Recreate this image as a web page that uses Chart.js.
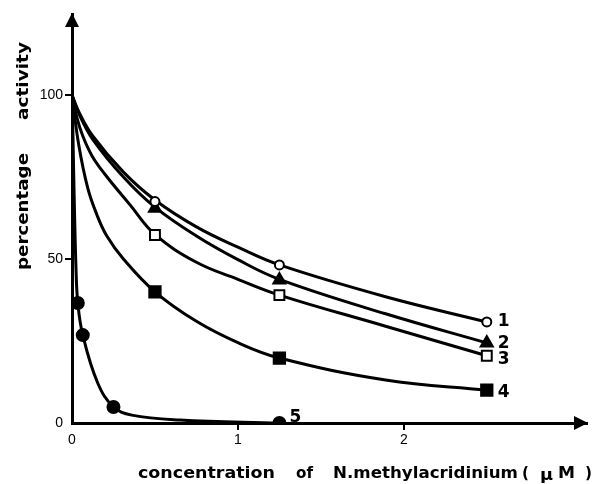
<!DOCTYPE html>
<html lang="en">
<head>
    <meta charset="UTF-8">
    <title>Percentage activity vs N-methylacridinium</title>
    <script src="https://cdn.jsdelivr.net/npm/chart.js"></script>
    <style>
        html, body {
            margin: 0;
            padding: 0;
            background: white;
        }
        .wrap {
            width: 597px;
            height: 484px;
            position: relative;
        }
    </style>
</head>
<body>
    <div class="wrap"><canvas id="chart"></canvas></div>
    <script>
        // tick labels
        const xTicks = [0, 1, 2];
        const yTicks = [0, 50, 100];
        const seriesNames = ["1", "2", "3", "4", "5"];

        // measured points (curves 1-4 share the same concentrations)
        const markerX = [0.5, 1.25, 2.5];
        const marker1 = [67.5, 48.2, 30.8];
        const marker2 = [65.5, 43.6, 24.4];
        const marker3 = [57.3, 39, 20.5];
        const marker4 = [40, 19.8, 10];
        const marker5X = [0.035, 0.065, 0.25, 1.25];
        const marker5 = [36.6, 26.8, 4.9, 0];

        // fitted curves
        const curve12X = [0, 0.04, 0.125, 0.31, 0.5, 0.75, 1.0, 1.25, 1.89, 2.5];
        const curve1 = [100, 95, 87.5, 76.5, 68, 59.8, 53.6, 48.2, 38.5, 30.8];
        const curve2 = [100, 94.5, 86.5, 75, 65.8, 57, 49.8, 43.8, 33.3, 24.4];
        const curve3X = [0, 0.03, 0.065, 0.12, 0.196, 0.35, 0.5, 0.75, 1.0, 1.25, 1.89, 2.5];
        const curve3 = [100, 93, 87.5, 81.5, 76, 66.5, 57.5, 49, 43.8, 39, 29.5, 20.5];
        const curve4X = [0, 0.04, 0.095, 0.15, 0.21, 0.31, 0.5, 0.75, 1.0, 1.25, 1.89, 2.5];
        const curve4 = [100, 85, 71.6, 63.5, 57, 50, 40, 31, 24.5, 19.8, 13.1, 10];
        const curve5X = [0, 0.006, 0.012, 0.024, 0.035, 0.065, 0.155, 0.25, 0.36, 0.65, 1.25];
        const curve5 = [100, 87, 71.6, 47.3, 36.6, 26.8, 12.2, 4.9, 2.4, 0.9, 0];

        const pts = (xs, ys) => xs.map((x, i) => ({ x, y: ys[i] }));

        const curve = (xs, ys) => ({
            data: pts(xs, ys),
            showLine: true,
            borderColor: "#000",
            borderWidth: 3,
            pointRadius: 0,
            tension: 0.4,
            order: 2,
        });

        const marks = (xs, ys, style, radius, fill) => ({
            data: pts(xs, ys),
            showLine: false,
            pointStyle: style,
            pointRadius: radius,
            pointBackgroundColor: fill,
            pointBorderColor: "#000",
            pointBorderWidth: 2,
            order: 1,
        });

        // label offsets next to the last point of each series
        const nameOffsets = [[17, 0], [17, 1], [17, 4], [17, 2], [16, -5]];

        const fitText = (ctx, text, x0, x1, y) => {
            const w = ctx.measureText(text).width;
            ctx.save();
            ctx.translate(x0, y);
            ctx.scale((x1 - x0) / w, 1);
            ctx.fillText(text, 0, 0);
            ctx.restore();
        };

        const overlay = {
            id: "overlay",
            afterDraw(chart) {
                const { ctx, chartArea: a, scales } = chart;
                const ax = scales.x.getPixelForValue(0);
                const ay = scales.y.getPixelForValue(0);
                ctx.save();
                ctx.fillStyle = "#000";

                // arrow heads
                ctx.beginPath();
                ctx.moveTo(ax, a.top - 1);
                ctx.lineTo(ax - 7, a.top + 13);
                ctx.lineTo(ax + 7, a.top + 13);
                ctx.closePath();
                ctx.fill();
                ctx.beginPath();
                ctx.moveTo(a.right + 1, ay);
                ctx.lineTo(a.right - 13, ay - 7);
                ctx.lineTo(a.right - 13, ay + 7);
                ctx.closePath();
                ctx.fill();

                // series numbers
                ctx.font = "bold 17px 'DejaVu Sans'";
                ctx.textAlign = "center";
                ctx.textBaseline = "middle";
                const markerSets = [5, 6, 7, 8, 9];
                markerSets.forEach((idx, i) => {
                    const els = chart.getDatasetMeta(idx).data;
                    const last = els[els.length - 1];
                    ctx.fillText(seriesNames[i], last.x + nameOffsets[i][0], last.y + nameOffsets[i][1]);
                });

                // axis titles
                ctx.textAlign = "left";
                ctx.textBaseline = "alphabetic";
                ctx.font = "bold 16px 'DejaVu Sans'";
                fitText(ctx, "concentration", 138, 275, 478);
                fitText(ctx, "of", 296, 313, 478);
                fitText(ctx, "N.methylacridinium", 333, 518, 478);
                fitText(ctx, "(", 522, 529, 478);
                fitText(ctx, "\u03bc", 540, 553, 480);
                fitText(ctx, "M", 558, 575, 478);
                fitText(ctx, ")", 585, 592, 478);

                ctx.save();
                ctx.translate(28, 0);
                ctx.rotate(-Math.PI / 2);
                fitText(ctx, "percentage", -270, -153, 0);
                fitText(ctx, "activity", -120, -42, 0);
                ctx.restore();

                ctx.restore();
            },
        };

        const tickColor = (ctx) => (ctx.tick && ctx.tick.value === 0 ? "rgba(0,0,0,0)" : "#000");

        new Chart(document.getElementById("chart"), {
            type: "scatter",
            data: {
                datasets: [
                    curve(curve12X, curve1),
                    curve(curve12X, curve2),
                    curve(curve3X, curve3),
                    curve(curve4X, curve4),
                    curve(curve5X, curve5),
                    marks(markerX, marker1, "circle", 4.5, "#fff"),
                    marks(markerX, marker2, "triangle", 7, "#000"),
                    marks(markerX, marker3, "rect", 7, "#fff"),
                    marks(markerX, marker4, "rect", 8, "#000"),
                    marks(marker5X, marker5, "circle", 6, "#000"),
                ],
            },
            options: {
                responsive: true,
                maintainAspectRatio: false,
                animation: false,
                layout: { padding: { top: 14, right: 2, left: 0, bottom: 0 } },
                plugins: {
                    legend: { display: false },
                    tooltip: { enabled: false },
                },
                scales: {
                    x: {
                        type: "linear",
                        min: 0,
                        max: 3.104,
                        afterFit: (s) => { s.height = 61; },
                        afterBuildTicks: (s) => { s.ticks = xTicks.map((v) => ({ value: v })); },
                        ticks: {
                            color: "#000",
                            font: { family: "'Liberation Sans'", size: 14 },
                            padding: 2,
                            maxRotation: 0,
                            autoSkip: false,
                        },
                        grid: {
                            drawOnChartArea: false,
                            tickLength: 7,
                            lineWidth: 2,
                            color: tickColor,
                        },
                        border: { color: "#000", width: 3 },
                    },
                    y: {
                        type: "linear",
                        min: 0,
                        max: 124.7,
                        afterFit: (s) => { s.width = 72; },
                        afterBuildTicks: (s) => { s.ticks = yTicks.map((v) => ({ value: v })); },
                        ticks: {
                            color: "#000",
                            font: { family: "'Liberation Sans'", size: 14 },
                            padding: 2,
                        },
                        grid: {
                            drawOnChartArea: false,
                            tickLength: 7,
                            lineWidth: 2,
                            color: tickColor,
                        },
                        border: { color: "#000", width: 3 },
                    },
                },
            },
            plugins: [overlay],
        });
    </script>
</body>
</html>
